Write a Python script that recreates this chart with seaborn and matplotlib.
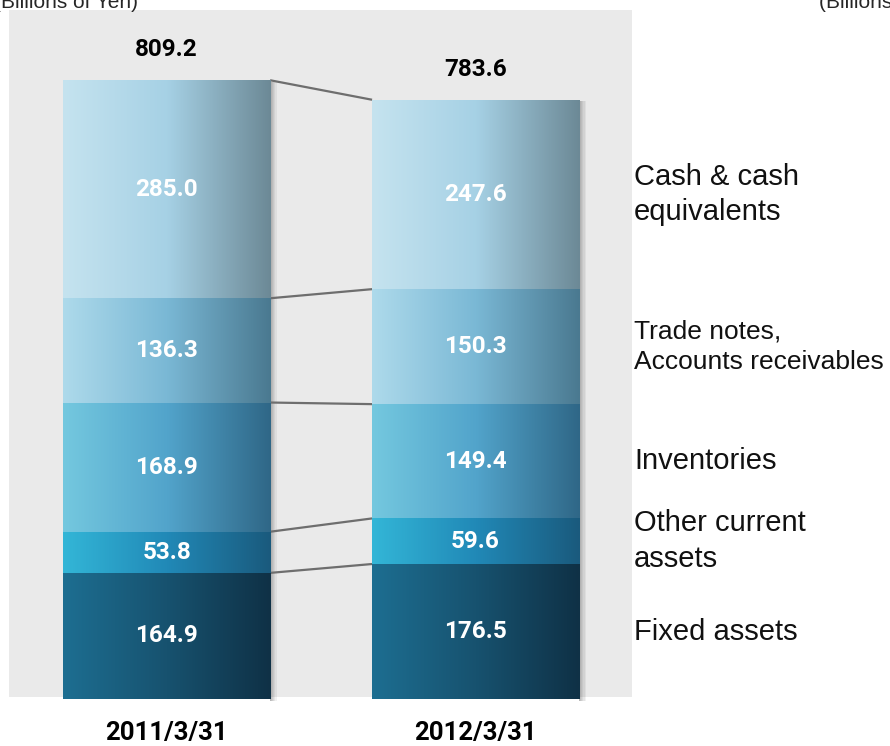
import numpy as np
import matplotlib.pyplot as plt
import seaborn as sns
from matplotlib.colors import LinearSegmentedColormap
from matplotlib.patches import Rectangle

# data (billions of yen), stacked bottom -> top
dates = ['2011/3/31', '2012/3/31']
totals = [809.2, 783.6]
fixed_assets = [164.9, 176.5]
other_current = [53.8, 59.6]
inventories = [168.9, 149.4]
trade_notes = [136.3, 150.3]
cash = [285.0, 247.6]
labels = ['Fixed assets', 'Other current\nassets', 'Inventories',
          'Trade notes,\nAccounts receivables', 'Cash & cash\nequivalents']
label_sizes = [21, 21, 21, 19, 21]

# left / middle / right colours of each layer's horizontal gradient
grads = [
    ['#1d6e91', '#17526f', '#0f3146'],
    ['#33b6d7', '#2189b7', '#1a5a7d'],
    ['#74c8df', '#52a4cb', '#2f6787'],
    ['#aedaeb', '#7ab8d5', '#4a7990'],
    ['#c5e3ef', '#a6d1e5', '#6c8996'],
]

layers = np.array([fixed_assets, other_current, inventories, trade_notes, cash])
tops = np.cumsum(layers, axis=0)
bottoms = tops - layers

sns.set_style('white')
plt.rcParams['font.family'] = ['Liberation Sans', 'DejaVu Sans']

fig = plt.figure(figsize=(8.9, 7.46), dpi=100)
ax = fig.add_axes([0, 0, 1, 1])
bar_w = 0.67

# grey panel behind the bars
ax.add_patch(Rectangle((-0.51, 2.6), 2.016, 898, color='#eaeaea', zorder=0, lw=0))

grad_img = np.linspace(0, 1, 256).reshape(1, -1)
z = 3
# draw cumulative bars from top layer down so lower layers sit on top
for k in range(len(layers) - 1, -1, -1):
    n0 = len(ax.patches)
    sns.barplot(x=dates, y=tops[k], width=bar_w, color='white', saturation=1,
                linewidth=0, ax=ax)
    cmap = LinearSegmentedColormap.from_list('g%d' % k, grads[k])
    for p in ax.patches[n0:]:
        x0, y0 = p.get_x(), p.get_y()
        w, h = p.get_width(), p.get_height()
        p.set_zorder(z)
        im = ax.imshow(grad_img, cmap=cmap, aspect='auto', extent=(x0, x0 + w, y0, y0 + h),
                       zorder=z + 0.5, interpolation='bicubic')
        im.set_clip_path(p)
        if k == len(layers) - 1:
            # soft shadow on the right side of each full bar
            for s in range(6):
                ax.add_patch(Rectangle((x0 + w, y0 - 2), 0.0035 * (6 - s), h, color='black',
                                       alpha=0.05, lw=0, zorder=2))
    z += 1

# connector lines between the two bars
for k in range(len(layers)):
    ax.plot([bar_w / 2, 1 - bar_w / 2], [tops[k][0], tops[k][1]], color='#6e6e6e',
            lw=1.6, zorder=2.5, solid_capstyle='butt')

# value labels
for i in range(len(dates)):
    for k in range(len(layers)):
        ax.text(i, bottoms[k][i] + layers[k][i] / 2, f'{layers[k][i]:.1f}', color='white',
                fontsize=17.5, fontweight='bold', family=['Roboto', 'DejaVu Sans'],
                ha='center', va='center', zorder=20)
    ax.text(i, totals[i] + 40, f'{totals[i]:.1f}', color='black', fontsize=17.5,
            fontweight='bold', family=['Roboto', 'DejaVu Sans'], ha='center', va='center',
            zorder=20)
    ax.text(i, -45, dates[i], color='black', fontsize=18.5, fontweight='bold',
            family=['Liberation Sans Narrow', 'Roboto', 'DejaVu Sans'],
            ha='center', va='center', zorder=20)

# category labels on the right, centred on the second bar's segments
for k in range(len(layers)):
    ax.text(1.513, bottoms[k][1] + layers[k][1] / 2, labels[k], fontsize=label_sizes[k],
            ha='left', va='center', linespacing=1.35, color='#111111')

ax.text(-0.092, 903, '(Billions of Yen)', fontsize=15, ha='right', va='baseline')
ax.text(2.11, 903, '(Billions of Yen)', fontsize=15, ha='left', va='baseline')

ax.set_xlim(-0.539, 2.341)
ax.set_ylim(-61.4, 913.8)
ax.axis('off')

fig.savefig('out.png', dpi=100)
